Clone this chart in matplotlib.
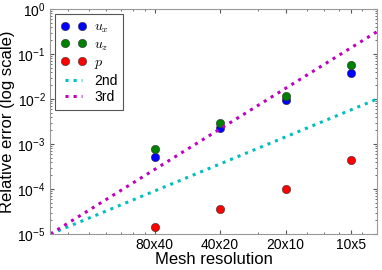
import numpy as np
import matplotlib
matplotlib.use("Agg")
import matplotlib.pyplot as plt

plt.rcParams["font.family"] = ["Liberation Sans", "DejaVu Sans"]
plt.rcParams["mathtext.fontset"] = "cm"

# mesh spacing relative to the finest mesh
meshes = ["80x40", "40x20", "20x10", "10x5"]
h = [1, 2, 4, 8]
err_ux = [5.1e-4, 2.3e-3, 9.5e-3, 3.8e-2]
err_uz = [7.8e-4, 2.9e-3, 1.17e-2, 5.7e-2]
err_p = [1.44e-5, 3.6e-5, 1.0e-4, 4.4e-4]

XMIN, XMAX = 0.333, 10.5
YMIN, YMAX = 1e-5, 1.0

fig = plt.figure(figsize=(3.82, 2.70), dpi=100)
ax = fig.add_axes([50.5 / 382, 36 / 270, 326.5 / 382, 225 / 270])

mk = dict(marker="o", linestyle="none", markersize=6, markeredgecolor="#333333",
          markeredgewidth=0.4)
ax.plot(h, err_ux, color="blue", markerfacecolor="blue", label=r"$u_x$", **mk)
ax.plot(h, err_uz, color="green", markerfacecolor="green", label=r"$u_z$", **mk)
ax.plot(h, err_p, color="red", markerfacecolor="red", label=r"$p$", **mk)

xs = np.array([XMIN, XMAX])
ax.plot(xs, YMIN * (xs / XMIN) ** 2, ":", color="c", lw=2.2, label="2nd")
ax.plot(xs, YMIN * (xs / XMIN) ** 3, ":", color="m", lw=2.2, label="3rd")

ax.set_xscale("log")
ax.set_yscale("log")
ax.set_xlim(XMIN, XMAX)
ax.set_ylim(YMIN, YMAX)
ax.set_xticks(h)
ax.set_xticklabels(meshes)
ax.tick_params(which="both", direction="in", top=True, right=True, labelsize=10,
               color="#555555")
ax.tick_params(which="major", length=3)
ax.tick_params(which="minor", length=1.5)
ax.tick_params(axis="x", pad=3)
for s in ax.spines.values():
    s.set_color("#999999")

ax.set_xlabel("Mesh resolution", fontsize=12, labelpad=0)
ax.set_ylabel("Relative error (log scale)", fontsize=12, labelpad=2)

leg = ax.legend(loc="upper left", numpoints=2, fontsize=10, fancybox=False,
                framealpha=1, borderaxespad=0.35, handlelength=1.8,
                labelspacing=0.18, borderpad=0.4, handletextpad=0.6)
leg.get_frame().set_edgecolor("#555555")
leg.get_frame().set_linewidth(0.8)

fig.savefig("out.png", dpi=100)
